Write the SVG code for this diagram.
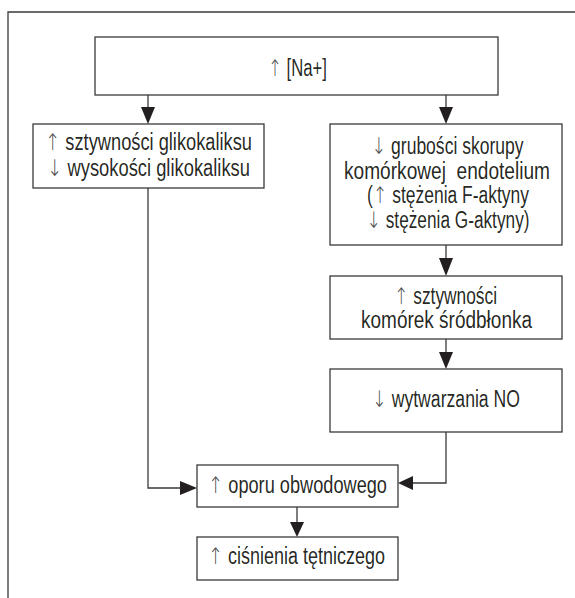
<svg xmlns="http://www.w3.org/2000/svg" width="575" height="598" viewBox="0 0 575 598">
<defs>
<style>
.box{fill:#fff;stroke:#3a3a3a;stroke-width:1.3}
.ln{fill:none;stroke:#3a3a3a;stroke-width:1.3}
.ah{fill:#231f20}
text{font-family:"Liberation Sans",Arial,sans-serif;font-size:23px;fill:#231f20;fill-opacity:0.995;text-anchor:middle;white-space:pre}
.a{font-family:"DejaVu Sans",sans-serif;font-weight:200;fill:#4a4a4a}
</style>
</defs>
<rect x="0" y="0" width="575" height="598" fill="#fff"/>
<path class="ln" d="M8,598 V12 H575"/>
<g id="connectors">
<path class="ln" d="M148,95 V108"/>
<polygon class="ah" points="141,107 155,107 148,124"/>
<path class="ln" d="M446,95 V108"/>
<polygon class="ah" points="439,107 453,107 446,124"/>
<path class="ln" d="M446,245 V259"/>
<polygon class="ah" points="439,258 453,258 446,276"/>
<path class="ln" d="M446,339 V353"/>
<polygon class="ah" points="439,352 453,352 446,369"/>
<path class="ln" d="M148,188 V488 H181"/>
<polygon class="ah" points="180,481 180,495 197,488"/>
<path class="ln" d="M446,432 V483 H412"/>
<polygon class="ah" points="413,476 413,490 398,483"/>
<path class="ln" d="M297,507 V523"/>
<polygon class="ah" points="290,522 304,522 297,537"/>
</g>
<g id="n1">
<rect class="box" x="95" y="37" width="403" height="58"/>
<text x="297.5" y="76" textLength="59" lengthAdjust="spacingAndGlyphs"><tspan class="a">↑</tspan> [Na+]</text>
</g>
<g id="n2">
<rect class="box" x="33" y="124" width="231" height="64"/>
<text x="148.5" y="150" textLength="207" lengthAdjust="spacingAndGlyphs"><tspan class="a">↑</tspan> sztywności glikokaliksu</text>
<text x="148.5" y="176" textLength="203" lengthAdjust="spacingAndGlyphs"><tspan class="a">↓</tspan> wysokości glikokaliksu</text>
</g>
<g id="n3">
<rect class="box" x="330" y="124" width="232" height="121"/>
<text x="447.5" y="154" textLength="152" lengthAdjust="spacingAndGlyphs"><tspan class="a">↓</tspan> grubości skorupy</text>
<text x="447" y="178.5" textLength="206" lengthAdjust="spacingAndGlyphs">komórkowej  endotelium</text>
<text x="448" y="203" textLength="162" lengthAdjust="spacingAndGlyphs">(<tspan class="a">↑</tspan> stężenia F-aktyny</text>
<text x="448" y="227.5" textLength="163" lengthAdjust="spacingAndGlyphs"><tspan class="a">↓</tspan> stężenia G-aktyny)</text>
</g>
<g id="n4">
<rect class="box" x="330" y="276" width="232" height="63"/>
<text x="445.5" y="303.5" textLength="103" lengthAdjust="spacingAndGlyphs"><tspan class="a">↑</tspan> sztywności</text>
<text x="446.5" y="328" textLength="171" lengthAdjust="spacingAndGlyphs">komórek śródbłonka</text>
</g>
<g id="n5">
<rect class="box" x="330" y="369" width="232" height="63"/>
<text x="446" y="407" textLength="148" lengthAdjust="spacingAndGlyphs"><tspan class="a">↓</tspan> wytwarzania NO</text>
</g>
<g id="n6">
<rect class="box" x="197" y="465" width="201" height="42"/>
<text x="297.5" y="493" textLength="179" lengthAdjust="spacingAndGlyphs"><tspan class="a">↑</tspan> oporu obwodowego</text>
</g>
<g id="n7">
<rect class="box" x="197" y="537" width="201" height="43"/>
<text x="296.5" y="564" textLength="177" lengthAdjust="spacingAndGlyphs"><tspan class="a">↑</tspan> ciśnienia tętniczego</text>
</g>
</svg>
